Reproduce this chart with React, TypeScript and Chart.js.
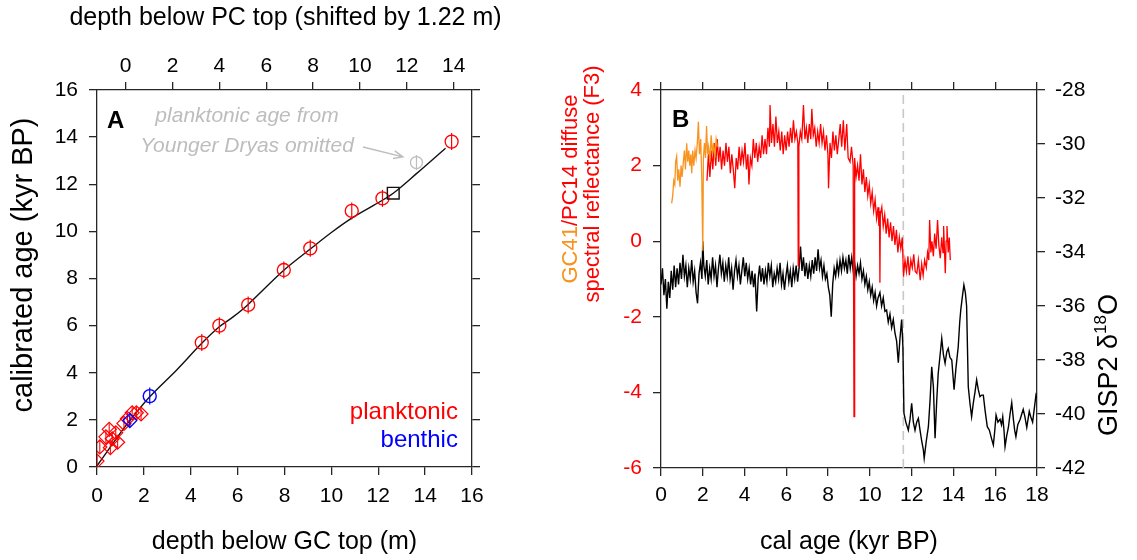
import React, { useEffect, useRef } from 'react';
import { Chart, registerables } from 'chart.js';
Chart.register(...registerables);

const FONT = "'Liberation Sans', Arial, Helvetica, sans-serif";
const AX = '#262626';
const RED = '#ff0000';
const BLUE = '#0000ff';
const ORANGE = '#f7931e';
const GREY = '#bdbdbd';

// ---------- Panel A data (depth GC [m], calibrated age [kyr BP]) ----------
const pcTicks = [0, 2, 4, 6, 8, 10, 12, 14];
const pcShift = 1.22;
const planktonicCircles: number[][] = [
  [4.47, 5.28], [5.22, 6.0], [6.45, 6.88], [7.97, 8.36], [9.1, 9.28],
  [10.87, 10.87], [12.18, 11.4], [15.13, 13.81],
];
const planktonicDiamonds: number[][] = [
  [0.0, 0.25], [0.12, 0.85], [0.38, 1.28], [0.52, 1.6], [0.57, 0.82], [0.65, 1.2],
  [0.8, 1.45], [0.88, 1.05], [1.15, 1.85], [1.3, 2.05], [1.5, 2.3], [1.68, 2.3], [1.88, 2.25],
];
const benthicCircles: number[][] = [[2.25, 3.01]];
const benthicDiamonds: number[][] = [[1.4, 1.97]];
const omittedYD: number[][] = [[13.63, 12.92]];
const tiePoint: number[][] = [[12.64, 11.62]];
const ageModel: number[][] = [
  [0, 0.05], [0.5, 0.75], [1.0, 1.45], [1.4, 1.97], [2.25, 2.98], [3.4, 4.12], [4.47, 5.25],
  [5.22, 5.95], [5.82, 6.38], [6.45, 6.9], [7.97, 8.35], [9.1, 9.25], [10.0, 9.95],
  [10.87, 10.56], [11.8, 11.1], [12.64, 11.62], [13.63, 12.45], [14.87, 13.53],
];

// ---------- Panel B data (cal age [kyr BP]) ----------
const gc41Reflectance: number[][] = [
  [0.51, 1.0], [0.56, 1.2], [0.61, 1.6], [0.66, 1.5], [0.7, 2.1], [0.75, 2.24], [0.8, 1.6],
  [0.85, 1.9], [0.91, 1.44], [0.96, 2.0], [1.01, 1.7], [1.07, 2.1], [1.12, 2.4], [1.17, 1.9],
  [1.23, 2.59], [1.28, 2.1], [1.33, 2.4], [1.38, 2.0], [1.43, 2.3], [1.47, 1.8], [1.52, 2.4],
  [1.57, 2.0], [1.63, 2.41], [1.68, 2.2], [1.74, 2.6], [1.79, 3.16], [1.84, 2.3], [1.9, 2.7],
  [1.95, 1.7], [2.0, -0.25], [2.03, 2.2], [2.08, 2.6], [2.13, 2.2], [2.18, 3.05], [2.23, 2.3],
  [2.28, 2.5], [2.34, 2.1], [2.4, 2.8], [2.46, 2.3], [2.52, 2.6], [2.58, 2.2], [2.64, 2.7], [2.7, 2.5],
];
const pc14Reflectance: number[][] = [
  [2.2, 1.6], [2.27, 2.3], [2.34, 1.7], [2.41, 2.4], [2.48, 1.9], [2.55, 2.6], [2.62, 2.0],
  [2.69, 2.7], [2.76, 2.1], [2.83, 2.5], [2.9, 1.9], [2.97, 2.4], [3.04, 2.0], [3.11, 2.6],
  [3.18, 2.1], [3.25, 2.5], [3.32, 1.8], [3.39, 2.3], [3.46, 1.9], [3.53, 1.4], [3.6, 2.2],
  [3.67, 1.9], [3.74, 2.5], [3.81, 2.0], [3.88, 2.4], [3.95, 2.1], [4.02, 2.6], [4.09, 1.9],
  [4.16, 2.3], [4.21, 1.5], [4.28, 2.2], [4.35, 2.0], [4.42, 2.7], [4.49, 2.2], [4.56, 2.6],
  [4.63, 2.1], [4.7, 2.5], [4.77, 2.2], [4.84, 2.8], [4.91, 2.3], [4.98, 2.7], [5.05, 2.3],
  [5.12, 3.0], [5.19, 2.5], [5.22, 3.6], [5.29, 2.6], [5.36, 3.1], [5.43, 2.5], [5.5, 3.3],
  [5.57, 2.6], [5.64, 2.9], [5.71, 2.4], [5.78, 2.9], [5.85, 2.3], [5.92, 2.8], [5.99, 2.4],
  [6.06, 2.9], [6.13, 2.5], [6.2, 3.0], [6.27, 2.6], [6.34, 3.2], [6.41, 2.7], [6.48, 2.9],
  [6.55, 2.6], [6.57, -0.65], [6.6, 2.5], [6.67, 2.9], [6.74, 2.7], [6.82, 3.6], [6.89, 2.7],
  [6.96, 3.0], [7.03, 2.6], [7.1, 3.1], [7.17, 2.7], [7.22, 3.5], [7.29, 2.8], [7.36, 3.0],
  [7.43, 2.5], [7.5, 2.9], [7.57, 2.6], [7.64, 3.1], [7.71, 2.6], [7.78, 2.9], [7.85, 2.4],
  [7.92, 2.8], [7.99, 2.3], [8.02, 1.4], [8.09, 2.6], [8.16, 2.2], [8.23, 2.9], [8.3, 2.4],
  [8.37, 2.8], [8.44, 2.3], [8.51, 2.7], [8.58, 3.1], [8.65, 2.5], [8.73, 3.2], [8.8, 2.4],
  [8.89, 3.1], [8.96, 2.2], [9.05, 2.1], [9.12, 2.5], [9.2, 2.0], [9.24, -4.64], [9.27, 2.2],
  [9.34, 1.7], [9.41, 2.0], [9.48, 1.6], [9.55, 2.3], [9.62, 1.5], [9.69, 1.9], [9.76, 1.3],
  [9.83, 1.7], [9.9, 1.2], [9.97, 1.5], [10.04, 1.0], [10.11, 1.3], [10.18, 0.8], [10.25, 1.1],
  [10.32, 0.6], [10.39, 0.9], [10.43, 0.4], [10.46, 0.8], [10.48, -1.1], [10.5, 0.7], [10.57, 0.9],
  [10.64, 0.4], [10.71, 0.7], [10.78, 0.2], [10.85, 0.6], [10.92, 0.1], [10.99, 0.5], [11.06, 0.0],
  [11.13, 0.4], [11.2, -0.1], [11.27, 0.3], [11.34, -0.3], [11.41, 0.1], [11.48, -0.2], [11.55, 0.1],
  [11.61, -0.94], [11.68, -0.5], [11.75, -0.8], [11.82, -0.4], [11.89, -0.9], [11.96, -0.5],
  [12.03, -0.7], [12.1, -0.35], [12.17, -0.8], [12.25, -0.85], [12.32, -0.5], [12.41, -1.03],
  [12.48, -0.6], [12.55, -0.9], [12.62, -0.5], [12.7, -0.7], [12.76, -0.3], [12.82, -0.5],
  [12.86, 0.56], [12.92, -0.3], [12.97, 0.0], [13.04, -0.4], [13.1, 0.2], [13.17, -0.2],
  [13.24, 0.56], [13.3, -0.1], [13.37, -0.45], [13.44, 0.1], [13.5, -0.3], [13.53, 0.4],
  [13.61, -0.85], [13.65, 0.0], [13.69, 0.4], [13.75, -0.3], [13.8, 0.1], [13.85, -0.5],
];
const gisp2d18O: number[][] = [
  [0.0, -35.2], [0.07, -34.6], [0.14, -35.6], [0.21, -35.0], [0.28, -36.1], [0.35, -35.1],
  [0.42, -35.7], [0.49, -34.7], [0.56, -35.4], [0.63, -34.5], [0.7, -35.3], [0.77, -34.6],
  [0.84, -35.2], [0.91, -34.4], [0.98, -35.0], [1.05, -34.1], [1.12, -34.9], [1.19, -34.5],
  [1.26, -35.3], [1.33, -34.6], [1.4, -35.0], [1.47, -34.3], [1.54, -35.1], [1.61, -34.7],
  [1.68, -35.5], [1.75, -35.9], [1.82, -34.8], [1.89, -34.4], [1.96, -35.0], [2.0, -33.6],
  [2.05, -34.5], [2.12, -34.9], [2.19, -34.3], [2.26, -35.2], [2.33, -34.6], [2.4, -35.0],
  [2.47, -34.2], [2.54, -34.9], [2.61, -34.5], [2.68, -35.3], [2.75, -34.6], [2.82, -34.1],
  [2.89, -34.8], [2.96, -34.4], [3.03, -35.1], [3.1, -34.5], [3.17, -34.9], [3.24, -34.2],
  [3.31, -35.0], [3.38, -34.6], [3.45, -35.4], [3.52, -34.7], [3.59, -34.3], [3.66, -34.9],
  [3.73, -34.5], [3.8, -35.2], [3.87, -34.7], [3.94, -34.2], [4.01, -34.9], [4.08, -34.4],
  [4.15, -35.0], [4.22, -34.6], [4.29, -35.2], [4.36, -34.7], [4.43, -35.3], [4.5, -34.8],
  [4.58, -36.2], [4.65, -35.0], [4.72, -34.5], [4.79, -35.1], [4.86, -34.6], [4.93, -35.2],
  [5.0, -34.7], [5.07, -35.1], [5.14, -34.4], [5.21, -34.9], [5.28, -34.5], [5.35, -35.3],
  [5.42, -34.8], [5.49, -35.1], [5.56, -34.6], [5.63, -35.0], [5.7, -34.4], [5.77, -35.2],
  [5.84, -34.8], [5.91, -35.4], [5.98, -34.9], [6.05, -34.5], [6.12, -35.1], [6.19, -34.7],
  [6.26, -35.3], [6.33, -34.6], [6.4, -35.0], [6.47, -34.5], [6.54, -35.1], [6.61, -34.6],
  [6.68, -33.8], [6.75, -34.7], [6.82, -34.2], [6.89, -34.9], [6.96, -34.4], [7.03, -35.0],
  [7.1, -34.5], [7.17, -34.9], [7.24, -34.3], [7.31, -34.8], [7.38, -34.2], [7.45, -34.7],
  [7.52, -33.9], [7.59, -34.6], [7.66, -34.3], [7.73, -34.9], [7.8, -34.5], [7.87, -35.0],
  [7.94, -34.8], [8.01, -35.3], [8.08, -35.6], [8.15, -36.4], [8.22, -35.2], [8.29, -34.6],
  [8.36, -34.9], [8.43, -34.4], [8.5, -34.8], [8.57, -34.3], [8.64, -34.7], [8.71, -34.2],
  [8.78, -34.6], [8.85, -34.3], [8.92, -34.8], [8.99, -34.1], [9.06, -34.6], [9.13, -34.2],
  [9.2, -34.7], [9.27, -34.4], [9.34, -34.9], [9.41, -34.5], [9.48, -34.8], [9.55, -34.4],
  [9.62, -35.0], [9.69, -34.7], [9.76, -35.2], [9.83, -34.9], [9.9, -35.4], [9.97, -35.1],
  [10.04, -35.6], [10.11, -35.3], [10.18, -35.8], [10.25, -35.5], [10.32, -36.0], [10.39, -35.7],
  [10.48, -35.5], [10.56, -36.0], [10.64, -35.7], [10.72, -36.2], [10.8, -36.15], [10.88, -36.6],
  [10.96, -36.3], [11.04, -36.8], [11.12, -36.5], [11.2, -37.0], [11.28, -37.3], [11.36, -38.1],
  [11.44, -37.2], [11.52, -36.5], [11.58, -37.5], [11.63, -39.97], [11.72, -40.3], [11.84, -40.6],
  [11.92, -40.2], [12.0, -39.6], [12.08, -40.3], [12.16, -40.6], [12.24, -40.3], [12.32, -40.16],
  [12.4, -40.6], [12.48, -41.0], [12.56, -41.33], [12.6, -41.64], [12.7, -41.0], [12.8, -40.47],
  [12.88, -39.5], [12.96, -38.25], [13.04, -39.0], [13.12, -40.9], [13.2, -39.5], [13.27, -38.5],
  [13.35, -37.9], [13.44, -37.2], [13.52, -37.8], [13.6, -38.12], [13.68, -37.7], [13.75, -37.57],
  [13.83, -37.9], [13.92, -38.0], [14.03, -39.1], [14.12, -38.3], [14.23, -37.5], [14.3, -36.6],
  [14.35, -36.15], [14.42, -35.7], [14.5, -35.22], [14.57, -35.5], [14.63, -36.0], [14.71, -38.99],
  [14.79, -39.6], [14.87, -40.1], [14.95, -39.6], [15.03, -39.2], [15.11, -38.74], [15.19, -39.1],
  [15.27, -39.36], [15.35, -39.3], [15.43, -39.3], [15.52, -39.9], [15.62, -40.47], [15.72, -40.6],
  [15.82, -40.9], [15.91, -41.15], [15.98, -40.6], [16.04, -40.04], [16.13, -40.3], [16.23, -40.2],
  [16.3, -40.4], [16.36, -40.1], [16.42, -40.6], [16.47, -41.21], [16.55, -40.8], [16.63, -40.5],
  [16.71, -40.0], [16.79, -39.58], [16.87, -40.2], [16.93, -40.6], [16.99, -40.84], [17.08, -40.4],
  [17.19, -40.2], [17.27, -40.0], [17.34, -39.83], [17.42, -40.1], [17.51, -40.5], [17.57, -40.2],
  [17.63, -39.9], [17.7, -40.1], [17.79, -40.3], [17.87, -39.8], [17.95, -39.3], [18.0, -39.4],
];
const holoceneOnset = 11.6;

const toXY = (arr: number[][]) => arr.map(([x, y]) => ({ x, y }));
const tickFont = { family: FONT, size: 21, lineHeight: 1.2 };
const titleFont = { family: FONT, size: 25, lineHeight: 1.2 };
const T = 'rgba(0,0,0,0)';

const gridOpts = { drawOnChartArea: false, tickLength: 8, color: AX, lineWidth: 1.3 };
const borderOpts = { color: AX, width: 1.3 };

function arrow(ctx: CanvasRenderingContext2D, x1: number, y1: number, x2: number, y2: number) {
  const a = Math.atan2(y2 - y1, x2 - x1);
  ctx.beginPath();
  ctx.moveTo(x1, y1);
  ctx.lineTo(x2, y2);
  ctx.moveTo(x2 - 10 * Math.cos(a - 0.4), y2 - 10 * Math.sin(a - 0.4));
  ctx.lineTo(x2, y2);
  ctx.lineTo(x2 - 10 * Math.cos(a + 0.4), y2 - 10 * Math.sin(a + 0.4));
  ctx.stroke();
}

const panelAText = {
  id: 'panelAText',
  afterDraw(chart: any) {
    const { ctx, chartArea } = chart;
    const x = chart.scales.x, y = chart.scales.y;
    ctx.save();
    ctx.textBaseline = 'alphabetic';
    // top axis title (drawn here so it is not squeezed to the axis width)
    ctx.fillStyle = '#000';
    ctx.font = `25px ${FONT}`;
    ctx.textAlign = 'center';
    ctx.fillText('depth below PC top (shifted by 1.22 m)', (chartArea.left + chartArea.right) / 2 + 1, 25);
    ctx.font = `bold 24px ${FONT}`;
    ctx.textAlign = 'left';
    ctx.fillText('A', x.getPixelForValue(0.43), y.getPixelForValue(14.39));
    // annotation
    ctx.fillStyle = GREY;
    ctx.font = `italic 21px ${FONT}`;
    ctx.textAlign = 'center';
    ctx.fillText('planktonic age from', x.getPixelForValue(6.4), y.getPixelForValue(14.66));
    ctx.fillText('Younger Dryas omitted', x.getPixelForValue(6.4), y.getPixelForValue(13.38));
    ctx.strokeStyle = GREY;
    ctx.lineWidth = 1.4;
    arrow(ctx, x.getPixelForValue(11.35), y.getPixelForValue(13.58), x.getPixelForValue(13.05), y.getPixelForValue(13.16));
    // legend
    ctx.font = `24px ${FONT}`;
    ctx.textAlign = 'right';
    ctx.fillStyle = RED;
    ctx.fillText('planktonic', x.getPixelForValue(15.4), y.getPixelForValue(2.04));
    ctx.fillStyle = BLUE;
    ctx.fillText('benthic', x.getPixelForValue(15.4), y.getPixelForValue(0.85));
    // left axis title
    ctx.fillStyle = '#000';
    ctx.font = `29px ${FONT}`;
    ctx.textAlign = 'center';
    ctx.translate(chartArea.left - 65, chartArea.top + 175);
    ctx.rotate(-Math.PI / 2);
    ctx.fillText('calibrated age (kyr BP)', 0, 0);
    ctx.restore();
  },
};

const panelBText = {
  id: 'panelBText',
  afterDraw(chart: any) {
    const { ctx, chartArea } = chart;
    const x = chart.scales.x, yL = chart.scales.yL;
    ctx.save();
    ctx.textBaseline = 'alphabetic';
    ctx.fillStyle = '#000';
    ctx.font = `bold 24px ${FONT}`;
    ctx.textAlign = 'left';
    ctx.fillText('B', x.getPixelForValue(0.53), yL.getPixelForValue(3.02));

    // left title, two lines, rotated
    ctx.font = `22px ${FONT}`;
    ctx.textAlign = 'left';
    const p1 = 'GC41', p2 = '/PC14 diffuse';
    const w1 = ctx.measureText(p1).width, w2 = ctx.measureText(p2).width;
    ctx.save();
    ctx.translate(chartArea.left - 84, chartArea.top + 99);
    ctx.rotate(-Math.PI / 2);
    const s = -(w1 + w2) / 2;
    ctx.fillStyle = ORANGE;
    ctx.fillText(p1, s, 0);
    ctx.fillStyle = RED;
    ctx.fillText(p2, s + w1, 0);
    ctx.restore();
    ctx.save();
    ctx.translate(chartArea.left - 62, chartArea.top + 94);
    ctx.rotate(-Math.PI / 2);
    ctx.fillStyle = RED;
    ctx.textAlign = 'center';
    ctx.fillText('spectral reflectance (F3)', 0, 0);
    ctx.restore();

    // right title GISP2 δ18O
    ctx.save();
    ctx.translate(chartArea.right + 80, chartArea.top + 275);
    ctx.rotate(-Math.PI / 2);
    ctx.fillStyle = '#000';
    ctx.textAlign = 'left';
    const big = `27px ${FONT}`, small = `17px ${FONT}`;
    ctx.font = big;
    const a = 'GISP2 \u03b4', c = 'O';
    const wa = ctx.measureText(a).width, wc = ctx.measureText(c).width;
    ctx.font = small;
    const b = '18';
    const wb = ctx.measureText(b).width;
    let sx = -(wa + wb + wc) / 2;
    ctx.font = big;
    ctx.fillText(a, sx, 0);
    sx += wa;
    ctx.font = small;
    ctx.fillText(b, sx, -11);
    sx += wb;
    ctx.font = big;
    ctx.fillText(c, sx, 0);
    ctx.restore();
    ctx.restore();
  },
};

function makeA(): any {
  return {
    type: 'scatter',
    data: {
      datasets: [
        { data: toXY(tiePoint), pointStyle: 'rect', pointRadius: 8.3, borderColor: '#111', backgroundColor: T, borderWidth: 1.4 },
        { data: toXY(benthicCircles), pointStyle: 'line', pointRotation: 90, pointRadius: 8.5, borderColor: BLUE, borderWidth: 1.2 },
        { data: toXY(benthicCircles), pointStyle: 'circle', pointRadius: 6.5, borderColor: BLUE, backgroundColor: T, borderWidth: 1.4 },
        { data: toXY(benthicDiamonds), pointStyle: 'line', pointRotation: 90, pointRadius: 7, borderColor: BLUE, borderWidth: 1.2 },
        { data: toXY(benthicDiamonds), pointStyle: 'rectRot', pointRadius: 7, borderColor: BLUE, backgroundColor: T, borderWidth: 1.3 },
        { data: toXY(planktonicCircles), pointStyle: 'line', pointRotation: 90, pointRadius: 8.5, borderColor: RED, borderWidth: 1.2 },
        { data: toXY(planktonicCircles), pointStyle: 'circle', pointRadius: 6.5, borderColor: RED, backgroundColor: T, borderWidth: 1.3 },
        { data: toXY(planktonicDiamonds), pointStyle: 'line', pointRotation: 90, pointRadius: 6, borderColor: RED, borderWidth: 1.1 },
        { data: toXY(planktonicDiamonds), pointStyle: 'rectRot', pointRadius: 7, borderColor: RED, backgroundColor: T, borderWidth: 1.2 },
        { data: toXY(omittedYD), pointStyle: 'line', pointRotation: 90, pointRadius: 7.5, borderColor: GREY, borderWidth: 1.2 },
        { data: toXY(omittedYD), pointStyle: 'circle', pointRadius: 6, borderColor: GREY, backgroundColor: T, borderWidth: 1.3 },
        { data: toXY(ageModel), showLine: true, pointRadius: 0, borderColor: '#111', borderWidth: 1.4, tension: 0.35, fill: false },
      ],
    },
    options: {
      responsive: false,
      animation: false,
      layout: { padding: 0 },
      plugins: { legend: { display: false }, tooltip: { enabled: false } },
      events: [],
      scales: {
        x: {
          type: 'linear', position: 'bottom', min: 0, max: 16,
          ticks: { stepSize: 2, font: tickFont, color: '#000', padding: 9, maxRotation: 0, autoSkip: false, callback: (v: number) => String(v) },
          grid: gridOpts, border: borderOpts,
          title: { display: true, text: 'depth below GC top (m)', font: titleFont, color: '#000', padding: { top: 0, bottom: 3 } },
          afterFit: (s: any) => { s.height = 93; },
        },
        x2: {
          type: 'linear', position: 'top', min: -pcShift, max: 16 - pcShift,
          afterBuildTicks: (s: any) => { s.ticks = pcTicks.map((v) => ({ value: v })); },
          ticks: { font: tickFont, color: '#000', padding: 3, maxRotation: 0, autoSkip: false, callback: (v: number) => String(v) },
          grid: gridOpts, border: borderOpts,
          afterFit: (s: any) => { s.height = 90; },
        },
        y: {
          type: 'linear', position: 'left', min: 0, max: 16,
          ticks: { stepSize: 2, font: tickFont, color: '#000', padding: 11, callback: (v: number) => String(v) },
          grid: gridOpts, border: borderOpts,
          afterFit: (s: any) => { s.width = 97; },
        },
        y2: {
          type: 'linear', position: 'right', min: 0, max: 16,
          ticks: { stepSize: 2, display: false },
          grid: gridOpts, border: borderOpts,
          afterFit: (s: any) => { s.width = 68; },
        },
      },
    },
    plugins: [panelAText],
  };
}

function makeB(): any {
  return {
    type: 'scatter',
    data: {
      datasets: [
        { data: toXY(gc41Reflectance), yAxisID: 'yL', showLine: true, pointRadius: 0, borderColor: ORANGE, borderWidth: 1.3, tension: 0 },
        { data: toXY(pc14Reflectance), yAxisID: 'yL', showLine: true, pointRadius: 0, borderColor: RED, borderWidth: 1.3, tension: 0 },
        { data: toXY(gisp2d18O), yAxisID: 'yR', showLine: true, pointRadius: 0, borderColor: '#000', borderWidth: 1.4, tension: 0 },
        { data: [{ x: holoceneOnset, y: -6 }, { x: holoceneOnset, y: 4 }], yAxisID: 'yL', showLine: true, pointRadius: 0, borderColor: '#c8c8c8', borderWidth: 1.6, borderDash: [9, 5] },
      ],
    },
    options: {
      responsive: false,
      animation: false,
      layout: { padding: 0 },
      plugins: { legend: { display: false }, tooltip: { enabled: false } },
      events: [],
      scales: {
        x: {
          type: 'linear', position: 'bottom', min: 0, max: 18,
          ticks: { stepSize: 2, font: tickFont, color: '#000', padding: 7, maxRotation: 0, autoSkip: false, callback: (v: number) => String(v) },
          grid: gridOpts, border: borderOpts,
          title: { display: true, text: 'cal age (kyr BP)', font: titleFont, color: '#000', padding: { top: 0, bottom: 3 } },
          afterFit: (s: any) => { s.height = 92; },
        },
        x2: {
          type: 'linear', position: 'top', min: 0, max: 18,
          ticks: { stepSize: 2, display: false },
          grid: gridOpts, border: borderOpts,
          afterFit: (s: any) => { s.height = 90; },
        },
        yL: {
          type: 'linear', position: 'left', min: -6, max: 4,
          ticks: { stepSize: 2, font: tickFont, color: RED, padding: 11, callback: (v: number) => String(v) },
          grid: gridOpts, border: borderOpts,
          afterFit: (s: any) => { s.width = 121; },
        },
        yR: {
          type: 'linear', position: 'right', min: -42, max: -28,
          ticks: { stepSize: 2, font: tickFont, color: '#000', padding: 10, callback: (v: number) => String(v) },
          grid: gridOpts, border: borderOpts,
          afterFit: (s: any) => { s.width = 100; },
        },
      },
    },
    plugins: [panelBText],
  };
}

export default function App() {
  const refA = useRef<HTMLCanvasElement>(null);
  const refB = useRef<HTMLCanvasElement>(null);
  useEffect(() => {
    const a = new Chart(refA.current as HTMLCanvasElement, makeA());
    const b = new Chart(refB.current as HTMLCanvasElement, makeB());
    return () => { a.destroy(); b.destroy(); };
  }, []);
  return (
    <div style={{ position: 'absolute', left: 0, top: 0, width: 1137, height: 560, background: '#fff' }}>
      <canvas ref={refA} width={540} height={560} style={{ position: 'absolute', left: 0, top: 0 }} />
      <canvas ref={refB} width={597} height={560} style={{ position: 'absolute', left: 540, top: 0 }} />
    </div>
  );
}
